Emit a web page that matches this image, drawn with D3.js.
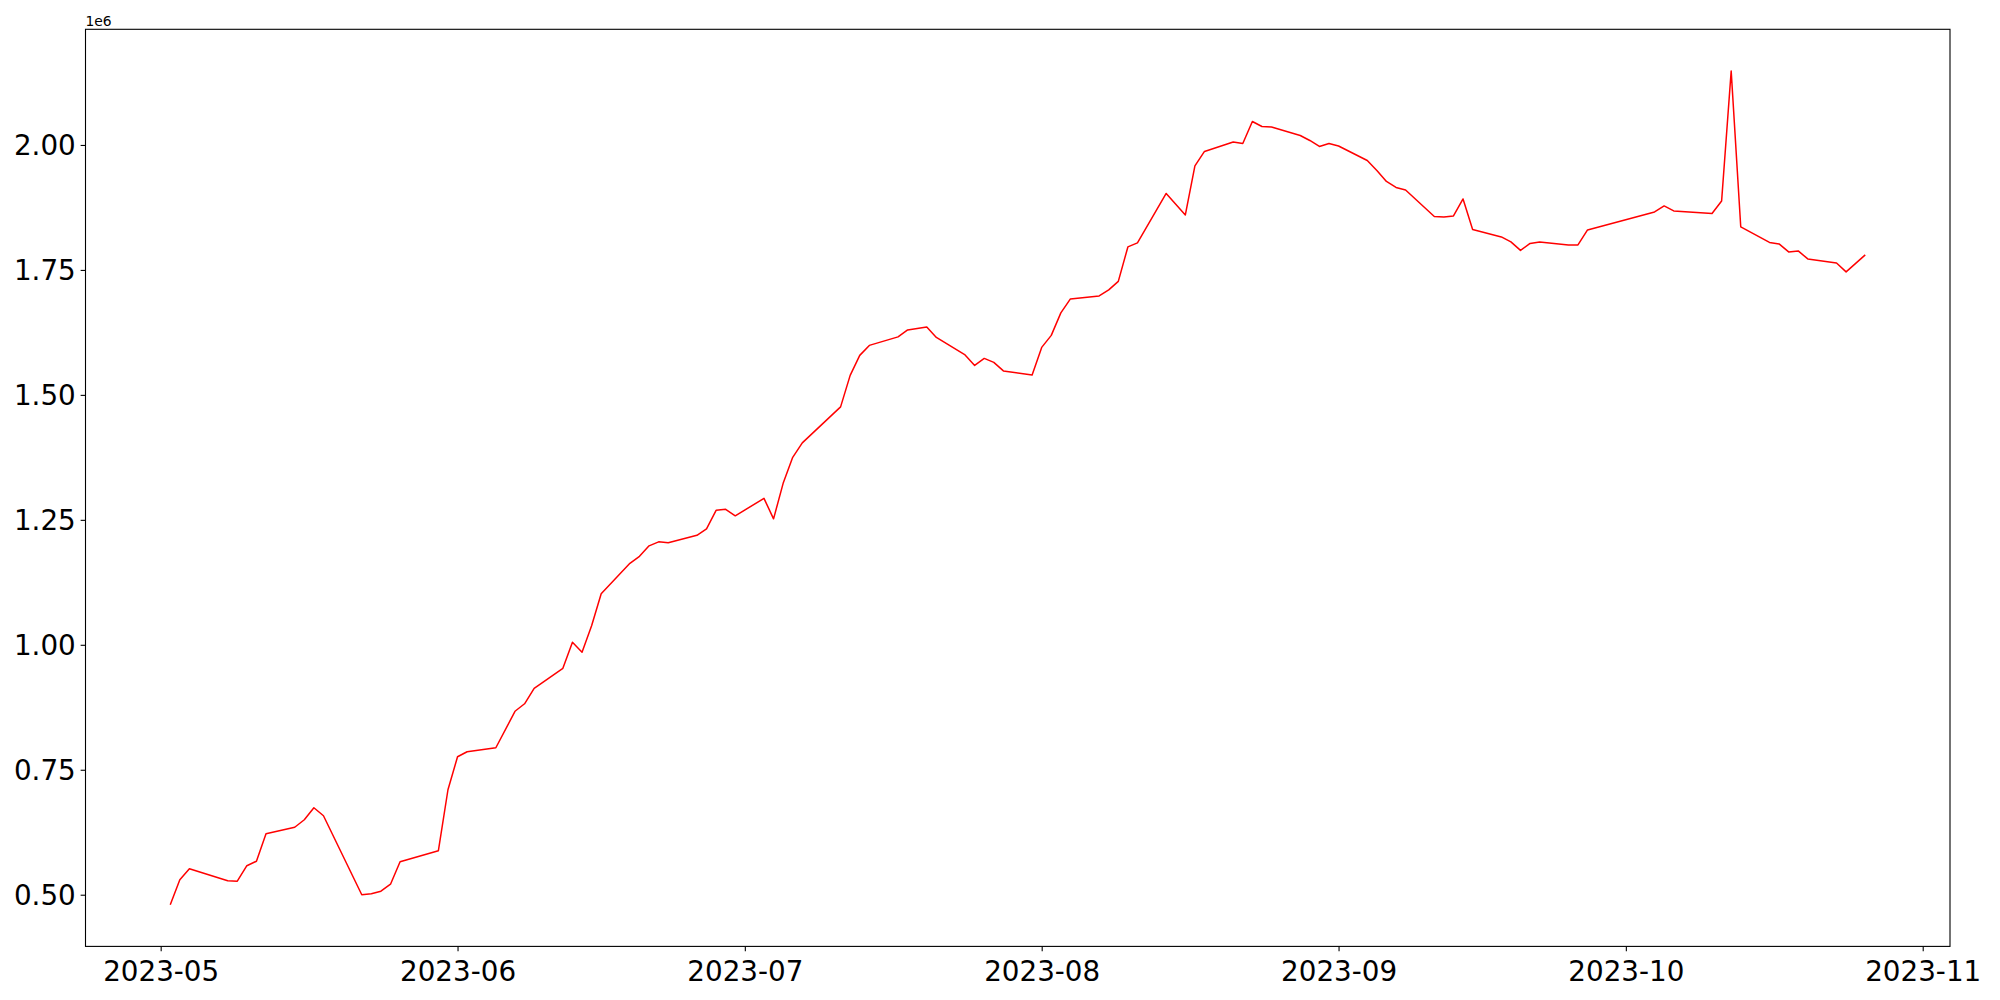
<!DOCTYPE html>
<html>
<head>
<meta charset="utf-8">
<script src="https://cdn.jsdelivr.net/npm/d3@7"></script>
<style>
  html, body { margin: 0; padding: 0; background: #fff; }
  svg { display: block; }
</style>
</head>
<body>
<svg id="chart" width="2000" height="1000"></svg>
<script>
// ---- data ----
const dates = [
  "2023-05-02","2023-05-03","2023-05-04","2023-05-08","2023-05-09","2023-05-10","2023-05-11","2023-05-12",
  "2023-05-15","2023-05-16","2023-05-17","2023-05-18","2023-05-22","2023-05-23","2023-05-24","2023-05-25",
  "2023-05-26","2023-05-30","2023-05-31","2023-06-01","2023-06-02","2023-06-05","2023-06-07","2023-06-08",
  "2023-06-09","2023-06-12","2023-06-13","2023-06-14","2023-06-15","2023-06-16","2023-06-19","2023-06-20",
  "2023-06-21","2023-06-22","2023-06-23","2023-06-26","2023-06-27","2023-06-28","2023-06-29","2023-06-30",
  "2023-07-03","2023-07-04","2023-07-05","2023-07-06","2023-07-07","2023-07-10","2023-07-11","2023-07-12",
  "2023-07-13","2023-07-14","2023-07-17","2023-07-18","2023-07-20","2023-07-21","2023-07-24","2023-07-25",
  "2023-07-26","2023-07-27","2023-07-28","2023-07-31","2023-08-01","2023-08-02","2023-08-03","2023-08-04",
  "2023-08-07","2023-08-08","2023-08-09","2023-08-10","2023-08-11","2023-08-14","2023-08-16","2023-08-17",
  "2023-08-18","2023-08-21","2023-08-22","2023-08-23","2023-08-24","2023-08-25","2023-08-28","2023-08-29",
  "2023-08-30","2023-08-31","2023-09-01","2023-09-04","2023-09-05","2023-09-06","2023-09-07","2023-09-08",
  "2023-09-11","2023-09-12","2023-09-13","2023-09-14","2023-09-15","2023-09-18","2023-09-19","2023-09-20",
  "2023-09-21","2023-09-22","2023-09-25","2023-09-26","2023-09-27","2023-10-04","2023-10-05","2023-10-06",
  "2023-10-10","2023-10-11","2023-10-12","2023-10-13","2023-10-16","2023-10-17","2023-10-18","2023-10-19",
  "2023-10-20","2023-10-23","2023-10-24","2023-10-26"
];
const values = [
  480000,530000,552000,528000,527000,558000,567000,622000,
  635000,650000,674000,658000,500000,502000,507000,521000,
  566000,588000,710000,776000,786000,794000,867000,882000,
  913000,953000,1005000,985000,1038000,1102000,1163000,1177000,
  1198000,1206000,1204000,1219000,1232000,1269000,1271000,1258000,
  1293000,1252000,1323000,1375000,1404000,1458000,1476000,1539000,
  1579000,1599000,1616000,1630000,1636000,1615000,1580000,1559000,
  1573000,1565000,1548000,1540000,1595000,1619000,1664000,1692000,
  1698000,1710000,1727000,1796000,1804000,1903000,1860000,1958000,
  1987000,2006000,2003000,2047000,2037000,2036000,2019000,2009000,
  1997000,2003000,1998000,1969000,1949000,1927000,1915000,1910000,
  1857000,1856000,1858000,1892000,1831000,1816000,1806000,1789000,
  1803000,1806000,1800000,1800000,1830000,1866000,1878000,1868000,
  1863000,1888000,2148000,1836000,1805000,1802000,1786000,1788000,
  1772000,1764000,1746000,1780000
];
const yTickValues = [500000, 750000, 1000000, 1250000, 1500000, 1750000, 2000000];
const offsetLabel = "1e6";

// ---- layout ----
const W = 2000, H = 1000;
const plot = { left: 85.5, top: 29.3, right: 1950, bottom: 946.4 };
const tickLen = 4.86, tickPad = 4.86;
const fontFamily = "'DejaVu Sans', sans-serif";
const tickFont = 27.78;

const parse = d3.utcParse("%Y-%m-%d");
const data = dates.map((d, i) => ({ date: parse(d), value: values[i] }));

// matplotlib-like 5% margins
const xExt = d3.extent(data, d => d.date);
const xSpan = xExt[1] - xExt[0];
const xDomain = [new Date(+xExt[0] - 0.05 * xSpan), new Date(+xExt[1] + 0.05 * xSpan)];
const yExt = d3.extent(data, d => d.value);
const ySpan = yExt[1] - yExt[0];
const yDomain = [yExt[0] - 0.05 * ySpan, yExt[1] + 0.05 * ySpan];

const x = d3.scaleUtc().domain(xDomain).range([plot.left, plot.right]);
const y = d3.scaleLinear().domain(yDomain).range([plot.bottom, plot.top]);

const svg = d3.select("#chart");
svg.append("rect").attr("width", W).attr("height", H).attr("fill", "#fff");

// line
const line = d3.line().x(d => x(d.date)).y(d => y(d.value));
svg.append("path")
  .datum(data)
  .attr("fill", "none")
  .attr("stroke", "red")
  .attr("stroke-width", 1.5)
  .attr("stroke-linejoin", "round")
  .attr("d", line);

// x axis
const xAxis = d3.axisBottom(x)
  .ticks(d3.utcMonth.every(1))
  .tickFormat(d3.utcFormat("%Y-%m"))
  .tickSize(tickLen)
  .tickPadding(tickPad);
const gx = svg.append("g").attr("transform", `translate(0,${plot.bottom})`).call(xAxis);
gx.select(".domain").remove();
gx.selectAll(".tick line").attr("stroke", "#000").attr("stroke-width", 1.1);
gx.selectAll(".tick text")
  .attr("font-family", fontFamily).attr("font-size", tickFont).attr("fill", "#000")
  .attr("dy", null).attr("y", 25.5).attr("dominant-baseline", "central");

// y axis
const yAxis = d3.axisLeft(y)
  .tickValues(yTickValues)
  .tickFormat(v => (v / 1e6).toFixed(2))
  .tickSize(tickLen)
  .tickPadding(tickPad);
const gy = svg.append("g").attr("transform", `translate(${plot.left},0)`).call(yAxis);
gy.select(".domain").remove();
gy.selectAll(".tick line").attr("stroke", "#000").attr("stroke-width", 1.1);
gy.selectAll(".tick text")
  .attr("font-family", fontFamily).attr("font-size", tickFont).attr("fill", "#000")
  .attr("dy", null).attr("dominant-baseline", "central");

// frame (spines)
svg.append("rect")
  .attr("x", plot.left).attr("y", plot.top)
  .attr("width", plot.right - plot.left).attr("height", plot.bottom - plot.top)
  .attr("fill", "none").attr("stroke", "#000").attr("stroke-width", 1.1);

// offset text
svg.append("text")
  .attr("x", plot.left).attr("y", 26)
  .attr("font-family", fontFamily).attr("font-size", 13.89).attr("fill", "#000")
  .text(offsetLabel);
</script>
</body>
</html>
